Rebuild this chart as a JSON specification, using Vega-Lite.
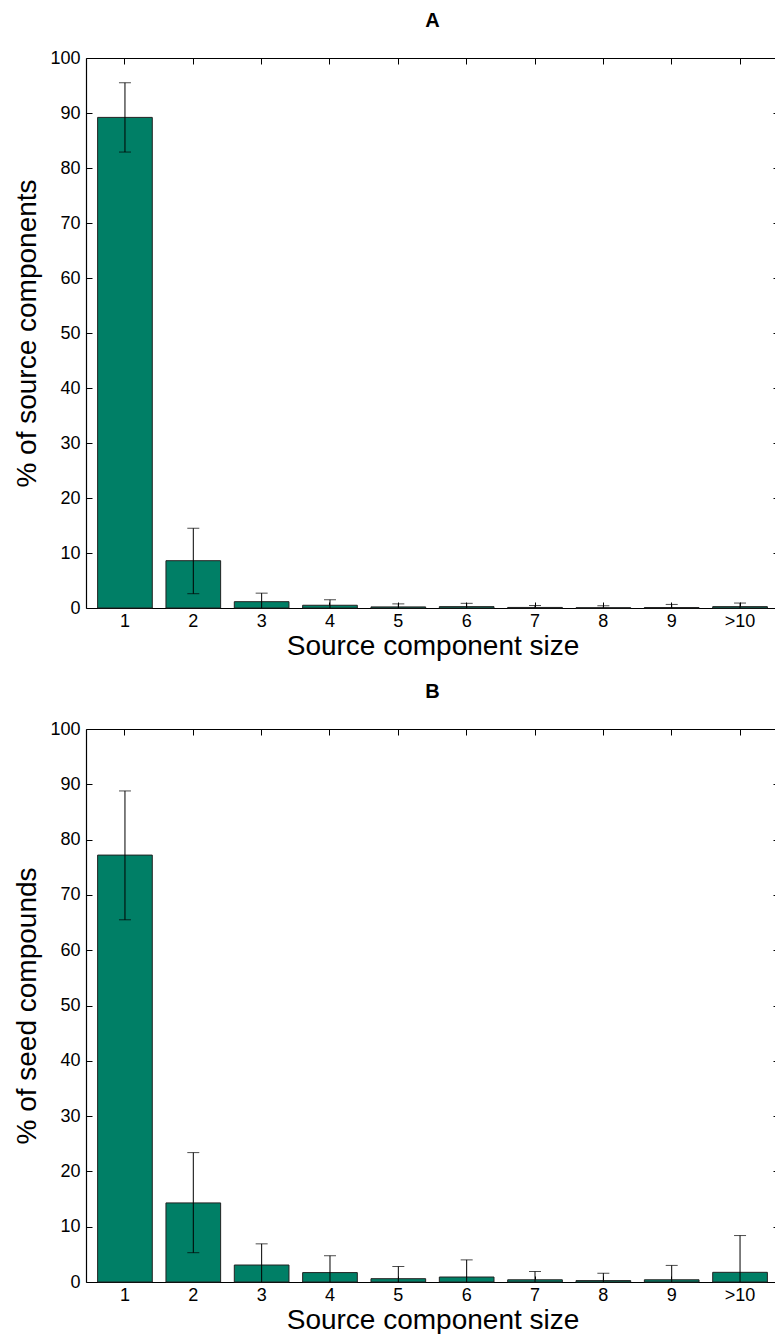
{
  "$schema": "https://vega.github.io/schema/vega-lite/v6.json",
  "padding": {"left": 13, "top": 11, "right": 0, "bottom": 0},
  "spacing": 22,
  "config": {
    "font": "Liberation Sans",
    "view": {"stroke": null},
    "title": {"fontSize": 20, "fontWeight": "bold", "color": "black", "font": "Liberation Sans", "anchor": "middle"},
    "axis": {
      "domainColor": "black", "domainWidth": 1.2, "tickColor": "black", "tickWidth": 1,
      "tickSize": -6, "labelColor": "black", "labelFontSize": 18, "labelFont": "Liberation Sans",
      "titleColor": "black", "titleFontSize": 28, "titleFontWeight": "normal", "titleFont": "Liberation Sans",
      "grid": false, "labelAngle": 0
    }
  },
  "vconcat": [
    {
      "title": {"text": "A", "offset": 18},
      "width": 693, "height": 550,
      "data": {"values": [
        {"size": "1", "pct": 89.2, "lo": 82.9, "hi": 95.5},
        {"size": "2", "pct": 8.6, "lo": 2.6, "hi": 14.5},
        {"size": "3", "pct": 1.15, "lo": -0.4, "hi": 2.7},
        {"size": "4", "pct": 0.5, "lo": -0.5, "hi": 1.5},
        {"size": "5", "pct": 0.2, "lo": -0.35, "hi": 0.75},
        {"size": "6", "pct": 0.25, "lo": -0.35, "hi": 0.85},
        {"size": "7", "pct": 0.1, "lo": -0.25, "hi": 0.45},
        {"size": "8", "pct": 0.05, "lo": -0.3, "hi": 0.4},
        {"size": "9", "pct": 0.08, "lo": -0.5, "hi": 0.65},
        {"size": ">10", "pct": 0.25, "lo": -0.4, "hi": 0.9}
      ]},
      "layer": [
        {
          "mark": {"type": "bar", "fill": "#007f66", "stroke": "#222222", "strokeWidth": 1},
          "encoding": {
            "x": {"field": "size", "type": "nominal", "sort": null,
                  "scale": {"paddingInner": 0.2, "paddingOuter": 0.17},
                  "axis": {"orient": "bottom", "title": "Source component size", "labelPadding": 10, "titlePadding": 2}},
            "y": {"field": "pct", "type": "quantitative",
                  "scale": {"domain": [0, 100], "nice": false},
                  "axis": {"orient": "left", "title": "% of source components", "values": [0,10,20,30,40,50,60,70,80,90,100], "labelPadding": 12, "titlePadding": 8}}
          }
        },
        {
          "mark": {"type": "rule", "color": "black", "strokeWidth": 1, "clip": true},
          "encoding": {
            "x": {"field": "size", "type": "nominal", "sort": null, "axis": null},
            "y": {"field": "lo", "type": "quantitative", "scale": {"domain": [0, 100], "nice": false}, "axis": null},
            "y2": {"field": "hi"}
          }
        },
        {
          "mark": {"type": "tick", "orient": "horizontal", "color": "black", "size": 12, "thickness": 1, "clip": true},
          "encoding": {
            "x": {"field": "size", "type": "nominal", "sort": null, "axis": null},
            "y": {"field": "hi", "type": "quantitative", "scale": {"domain": [0, 100], "nice": false}, "axis": null}
          }
        },
        {
          "mark": {"type": "tick", "orient": "horizontal", "color": "black", "size": 12, "thickness": 1, "clip": true},
          "encoding": {
            "x": {"field": "size", "type": "nominal", "sort": null, "axis": null},
            "y": {"field": "lo", "type": "quantitative", "scale": {"domain": [0, 100], "nice": false}, "axis": null}
          }
        },
        {
          "mark": {"type": "point", "opacity": 0},
          "encoding": {
            "x": {"field": "size", "type": "nominal", "sort": null,
                  "axis": {"orient": "top", "title": null, "labels": false}},
            "y": {"field": "pct", "type": "quantitative", "scale": {"domain": [0, 100], "nice": false},
                  "axis": {"orient": "right", "title": null, "labels": false, "values": [0,10,20,30,40,50,60,70,80,90,100]}}
          }
        }
      ],
      "resolve": {"axis": {"x": "independent", "y": "independent"}}
    },
    {
      "title": {"text": "B", "offset": 18},
      "width": 693, "height": 553,
      "data": {"values": [
        {"size": "1", "pct": 77.2, "lo": 65.5, "hi": 88.8},
        {"size": "2", "pct": 14.3, "lo": 5.3, "hi": 23.4},
        {"size": "3", "pct": 3.07, "lo": -0.8, "hi": 6.9},
        {"size": "4", "pct": 1.7, "lo": -1.3, "hi": 4.75},
        {"size": "5", "pct": 0.6, "lo": -1.6, "hi": 2.8},
        {"size": "6", "pct": 0.9, "lo": -2.2, "hi": 4.0},
        {"size": "7", "pct": 0.4, "lo": -1.1, "hi": 1.9},
        {"size": "8", "pct": 0.25, "lo": -1.1, "hi": 1.6},
        {"size": "9", "pct": 0.4, "lo": -2.2, "hi": 3.0},
        {"size": ">10", "pct": 1.75, "lo": -4.9, "hi": 8.4}
      ]},
      "layer": [
        {
          "mark": {"type": "bar", "fill": "#007f66", "stroke": "#222222", "strokeWidth": 1},
          "encoding": {
            "x": {"field": "size", "type": "nominal", "sort": null,
                  "scale": {"paddingInner": 0.2, "paddingOuter": 0.17},
                  "axis": {"orient": "bottom", "title": "Source component size", "labelPadding": 10, "titlePadding": 2}},
            "y": {"field": "pct", "type": "quantitative",
                  "scale": {"domain": [0, 100], "nice": false},
                  "axis": {"orient": "left", "title": "% of seed compounds", "values": [0,10,20,30,40,50,60,70,80,90,100], "labelPadding": 12, "titlePadding": 8}}
          }
        },
        {
          "mark": {"type": "rule", "color": "black", "strokeWidth": 1, "clip": true},
          "encoding": {
            "x": {"field": "size", "type": "nominal", "sort": null, "axis": null},
            "y": {"field": "lo", "type": "quantitative", "scale": {"domain": [0, 100], "nice": false}, "axis": null},
            "y2": {"field": "hi"}
          }
        },
        {
          "mark": {"type": "tick", "orient": "horizontal", "color": "black", "size": 12, "thickness": 1, "clip": true},
          "encoding": {
            "x": {"field": "size", "type": "nominal", "sort": null, "axis": null},
            "y": {"field": "hi", "type": "quantitative", "scale": {"domain": [0, 100], "nice": false}, "axis": null}
          }
        },
        {
          "mark": {"type": "tick", "orient": "horizontal", "color": "black", "size": 12, "thickness": 1, "clip": true},
          "encoding": {
            "x": {"field": "size", "type": "nominal", "sort": null, "axis": null},
            "y": {"field": "lo", "type": "quantitative", "scale": {"domain": [0, 100], "nice": false}, "axis": null}
          }
        },
        {
          "mark": {"type": "point", "opacity": 0},
          "encoding": {
            "x": {"field": "size", "type": "nominal", "sort": null,
                  "axis": {"orient": "top", "title": null, "labels": false}},
            "y": {"field": "pct", "type": "quantitative", "scale": {"domain": [0, 100], "nice": false},
                  "axis": {"orient": "right", "title": null, "labels": false, "values": [0,10,20,30,40,50,60,70,80,90,100]}}
          }
        }
      ],
      "resolve": {"axis": {"x": "independent", "y": "independent"}}
    }
  ]
}
